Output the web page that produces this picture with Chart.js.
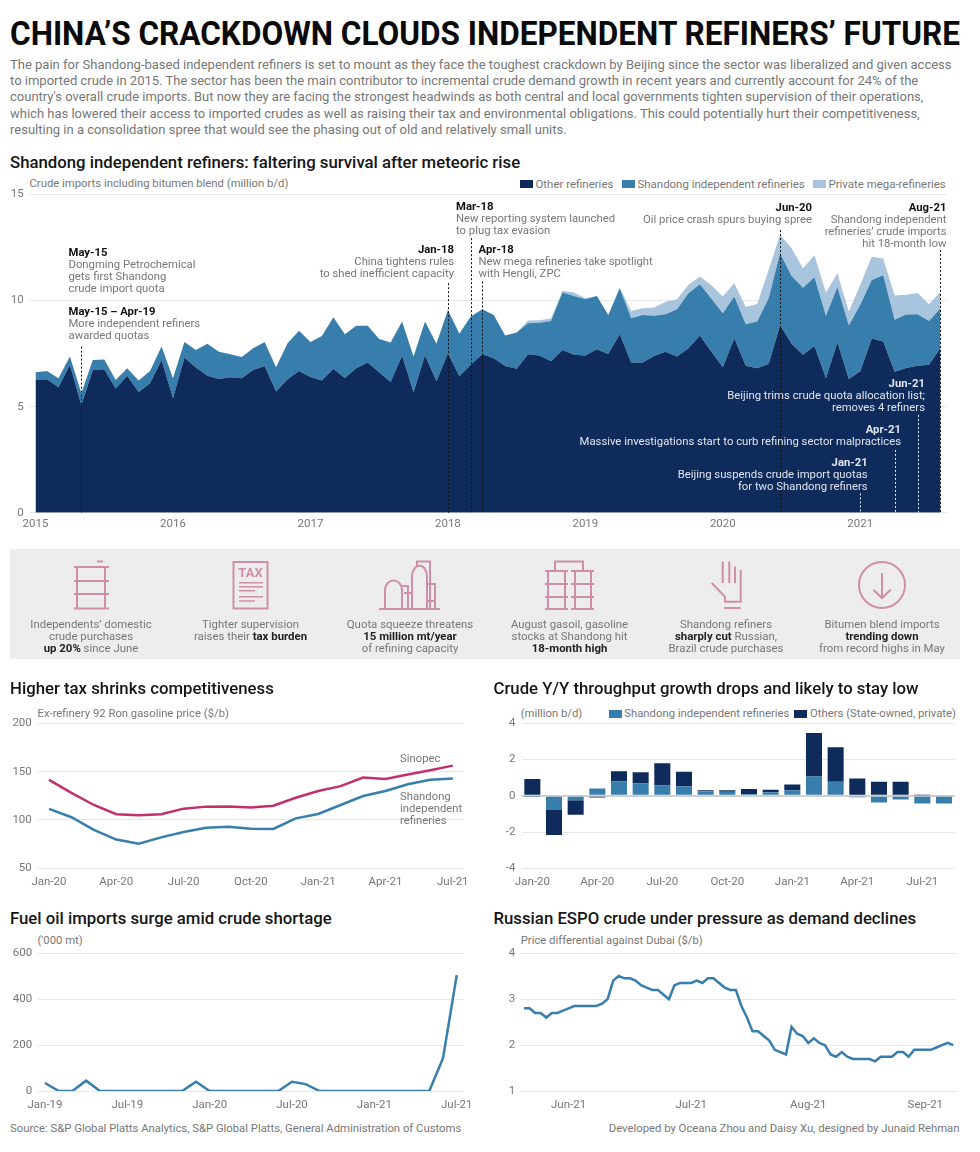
<!DOCTYPE html>
<html>
<head>
<meta charset="utf-8">
<script src="https://cdn.jsdelivr.net/npm/chart.js@4"></script>
<style>
html,body{margin:0;padding:0;background:#fff;}
body{position:relative;width:980px;height:1152px;overflow:hidden;font-family:Roboto,sans-serif;color:#777;}
canvas{position:absolute;}
h1{position:absolute;margin:0;left:10px;top:12px;font:bold 34px/42px Roboto,sans-serif;color:#0a0a0a;white-space:nowrap;transform-origin:0 0;}
h2{position:absolute;margin:0;font:500 16.75px/20px Roboto,sans-serif;color:#151515;white-space:nowrap;}
#intro{position:absolute;left:10px;top:56.5px;font:13px/16.45px Roboto,sans-serif;color:#777;white-space:nowrap;}
.sub{position:absolute;font:11.3px/14px Roboto,sans-serif;color:#777;white-space:nowrap;}
.sub.lg{font-size:11.45px;}
.box{position:absolute;height:8px;width:13px;}
.note{position:absolute;font:11.3px/12px Roboto,sans-serif;color:#777;white-space:nowrap;}
.note b{color:#111;font-weight:700;}
.note.w,.note.w b{color:#dfe5ee;}
#panel{position:absolute;left:10px;top:549px;width:950px;height:110px;background:#ededed;}
.cap{position:absolute;top:617.5px;width:170px;text-align:center;font:11.4px/12.2px Roboto,sans-serif;color:#777;}
.cap b{color:#222;font-weight:700;}
svg{position:absolute;left:0;top:0;}
</style>
</head>
<body>
<h1 id="title">CHINA’S CRACKDOWN CLOUDS INDEPENDENT REFINERS’ FUTURE</h1>
<div id="intro">The pain for Shandong-based independent refiners is set to mount as they face the toughest crackdown by Beijing since the sector was liberalized and given access<br>to imported crude in 2015. The sector has been the main contributor to incremental crude demand growth in recent years and currently account for 24% of the<br>country's overall crude imports. But now they are facing the strongest headwinds as both central and local governments tighten supervision of their operations,<br>which has lowered their access to imported crudes as well as raising their tax and environmental obligations. This could potentially hurt their competitiveness,<br>resulting in a consolidation spree that would see the phasing out of old and relatively small units.</div>

<h2 style="left:10px;top:152px">Shandong independent refiners: faltering survival after meteoric rise</h2>
<div class="sub" style="left:29.5px;top:176.5px">Crude imports including bitumen blend (million b/d)</div>
<div class="box" style="left:519.5px;top:180px;background:#0f2b5b"></div><div class="sub lg" style="left:535.5px;top:176.5px">Other refineries</div>
<div class="box" style="left:621.5px;top:180px;background:#377eac"></div><div class="sub lg" style="left:637.5px;top:176.5px">Shandong independent refineries</div>
<div class="box" style="left:812.5px;top:180px;background:#a9c5de"></div><div class="sub lg" style="left:828.5px;top:176.5px">Private mega-refineries</div>
<canvas id="importsChart" width="960" height="355" style="left:0;top:180px"></canvas>

<div id="panel"></div>
<svg width="980" height="680" fill="none" stroke="#d08fa9" stroke-width="2">
  <!-- barrel -->
  <path d="M97 561.5H103M74 567H109M74 581H109M74 594H109M74 608.5H109M77 567V608M105 567V608"/>
  <!-- tax form -->
  <rect x="233.5" y="562" width="34" height="46.500"/>
  <path d="M239 582.700H263M239 586.700H263M239 590.700H255M239 596.700H263M239 601H255" stroke-width="1.600"/>
  <text x="250.500" y="577" text-anchor="middle" fill="#d08fa9" stroke="none" style="font:bold 13px Roboto,sans-serif">TAX</text>
  <!-- refinery -->
  <path d="M379 609H440M385 609V591C385 577 402 577 402 591V609M402 586H408V609M404 593H412M412 609V577C412 562 427 562 427 577V609M417 566V561.500H430V584M427 584H435V609M430 584V609M427 601H435"/>
  <!-- two barrels -->
  <path d="M555 571V561.500H583V571M545 571H568M571 571H594M545 584H568M571 584H594M545 597H568M571 597H594M545 609H568M571 609H594M548 571V609M565 571V609M575 571V609M591 571V609"/>
  <!-- hand -->
  <path d="M722.700 561.500V583M729.300 561.500V583M735 566.500V583M740.700 570V601.700H725V596.700L711.700 583M724 608H740.700"/>
  <!-- down arrow -->
  <circle cx="882" cy="585" r="23"/>
  <path d="M882 573V598M873.300 589.700L882 598L890.700 589.700"/>
</svg>
<div class="cap" style="left:6px">Independents’ domestic<br>crude purchases<br><b>up 20%</b> since June</div>
<div class="cap" style="left:165.500px">Tighter supervision<br>raises their <b>tax burden</b></div>
<div class="cap" style="left:325px">Quota squeeze threatens<br><b>15 million mt/year</b><br>of refining capacity</div>
<div class="cap" style="left:484.500px">August gasoil, gasoline<br>stocks at Shandong hit<br><b>18-month high</b></div>
<div class="cap" style="left:641px">Shandong refiners<br><b>sharply cut</b> Russian,<br>Brazil crude purchases</div>
<div class="cap" style="left:797px">Bitumen blend imports<br><b>trending down</b><br>from record highs in May</div>

<h2 style="left:10px;top:678px">Higher tax shrinks competitiveness</h2>
<div class="sub" style="left:37.500px;top:707px">Ex-refinery 92 Ron gasoline price ($/b)</div>
<canvas id="gasolineChart" width="480" height="180" style="left:0;top:708px"></canvas>
<div class="sub" style="left:400px;top:752px">Sinopec</div>
<div class="sub" style="left:400px;top:791px;line-height:12px">Shandong<br>independent<br>refineries</div>

<h2 style="left:493.500px;top:678px">Crude Y/Y throughput growth drops and likely to stay low</h2>
<div class="sub" style="left:520.700px;top:707px">(million b/d)</div>
<div class="box" style="left:608.500px;top:710px;background:#377eac"></div><div class="sub" style="left:624.300px;top:707px">Shandong independent refineries</div>
<div class="box" style="left:794px;top:710px;background:#0f2b5b"></div><div class="sub" style="left:810px;top:707px">Others (State-owned, private)</div>
<canvas id="throughputChart" width="480" height="180" style="left:490px;top:708px"></canvas>

<h2 style="left:10px;top:908px">Fuel oil imports surge amid crude shortage</h2>
<div class="sub" style="left:37.500px;top:934px">('000 mt)</div>
<canvas id="fuelChart" width="480" height="172" style="left:0;top:938px"></canvas>

<h2 style="left:493.500px;top:908px">Russian ESPO crude under pressure as demand declines</h2>
<div class="sub" style="left:520.700px;top:934px">Price differential against Dubai ($/b)</div>
<canvas id="espoChart" width="480" height="172" style="left:490px;top:938px"></canvas>

<div class="sub" style="left:10px;top:1122px">Source: S&amp;P Global Platts Analytics, S&amp;P Global Platts, General Administration of Customs</div>
<div class="sub" style="right:20.500px;top:1122px">Developed by Oceana Zhou and Daisy Xu, designed by Junaid Rehman</div>

<div id="notes"></div>

<script>
const NAVY = '#0f2b5b', BLUE = '#377eac', LIGHT = '#a9c5de', PINK = '#c2306f';

// main chart, monthly Jan-15 to Aug-21
const otherRefineries = [6.26,6.29,5.91,6.97,5.08,6.73,6.76,5.85,6.45,5.69,6.10,7.20,
  5.39,7.31,6.84,6.46,6.30,6.38,6.34,6.73,6.92,5.71,6.29,6.68,
  6.40,6.23,6.79,6.35,6.81,7.08,6.62,6.16,7.41,5.68,7.42,6.20,
  7.52,6.43,6.97,7.48,7.28,6.92,6.79,7.47,7.41,7.14,7.67,7.44,
  7.41,7.70,7.48,8.41,7.08,7.08,7.39,7.59,7.36,7.75,8.35,7.59,
  6.86,8.22,6.93,6.81,7.01,8.85,7.96,7.45,7.86,6.34,8.03,6.30,
  6.67,8.21,8.07,6.65,6.82,6.93,6.97,7.78];
const shandongRefineries = [.36,.39,.43,.39,.55,.47,.46,.41,.36,.54,.58,.63,
  .95,.74,.83,1.50,1.29,1.09,1.00,1.02,1.13,1.15,1.70,1.90,
  1.65,2.10,2.42,2.06,2.00,1.73,1.57,1.86,1.60,1.68,1.59,1.76,
  2.04,2.01,2.28,2.11,2.04,1.43,1.70,1.46,1.55,1.90,2.71,2.78,
  2.65,2.52,1.84,2.17,2.09,2.24,1.89,1.77,2.23,2.60,2.42,2.49,
  2.54,1.97,1.95,2.20,3.10,3.38,3.20,3.15,3.24,2.95,2.60,2.52,
  3.13,2.76,3.12,2.44,2.52,2.43,2.07,1.86];
const megaRefineries = [0,0,0,0,0,0,0,0,0,0,0,0,
  0,0,0,0,0,0,0,0,0,0,0,0,
  0,0,0,0,0,0,0,0,0,0,0,0,
  0,0,0,0,0,0,0,.13,.11,.11,.08,.16,
  .05,0,0,.03,.34,.32,.39,.59,.47,.39,.36,.64,
  .79,.63,.82,.83,1.34,.87,1.31,.92,1.04,1.09,.66,.66,
  .94,1.09,.79,1.15,.93,1.00,.79,.78];

// gasoline, Jan-20 to Jul-21
const sinopecPrice = [141.4,128,115.5,106,105,106,111.7,113.8,114,112.8,114.8,123,130,135,143.8,142.4,147,151.4,156.2];
const shandongPrice = [111.4,102.8,89.7,79.7,75.5,82,87.6,92,93,91,90.7,101.7,106.2,115.5,124.8,130,137,141.7,143];

// throughput growth, Jan-20 to Aug-21
const shandongGrowth = [-.03,-.78,-.25,.4,.8,.68,.57,.53,.25,.22,.1,.2,.3,1.07,.78,-.08,-.37,-.2,-.42,-.42];
const othersGrowth = [.93,-1.38,-.8,-.1,.55,.62,1.23,.8,.05,.08,.28,.13,.33,2.4,1.9,.95,.78,.78,.03,0];

// fuel oil imports, Jan-19 to Jul-21
const fuelOilImports = [35,0,0,45,0,0,0,0,0,0,0,40,0,0,0,0,0,0,40,30,0,0,0,0,0,0,0,0,0,143,505];

// ESPO differential, daily
const espoDiff = [2.8,2.8,2.7,2.7,2.6,2.7,2.7,2.75,2.8,2.85,2.85,2.85,2.85,2.85,2.9,3.0,3.4,3.5,3.45,3.45,
  3.4,3.3,3.25,3.2,3.2,3.1,3.0,3.3,3.35,3.35,3.35,3.4,3.35,3.45,3.45,3.35,3.25,3.2,3.2,2.85,
  2.6,2.3,2.3,2.2,2.1,1.9,1.85,1.8,2.4,2.25,2.2,2.05,2.15,2.05,2.0,1.8,1.75,1.85,1.75,1.7,
  1.7,1.7,1.7,1.65,1.75,1.75,1.75,1.85,1.85,1.75,1.9,1.9,1.9,1.9,1.95,2.0,2.05,2.0];
const espoTicks = {8:'Jun-21',30:'Jul-21',51:'Aug-21',72:'Sep-21'};

// event markers on main chart: month index, value where the dotted line starts
const eventLines = [
  {i:4,top:7.83,color:'#111'},{i:36,top:10.82,color:'#111'},{i:38,top:12.94,color:'#111'},
  {i:39,top:10.9,color:'#111'},{i:65,top:13.33,color:'#111'},{i:79,top:12.39,color:'#111'},
  {i:72,top:.91,color:'#e8edf4'},{i:75,top:2.96,color:'#e8edf4'},{i:77,top:4.61,color:'#e8edf4'}
];

const notes = [
  {x:68.5,y:246.5,head:'May-15',lines:['Dongming Petrochemical','gets first Shandong','crude import quota']},
  {x:68.5,y:306,head:'May-15 – Apr-19',lines:['More independent refiners','awarded quotas']},
  {r:454,y:244,head:'Jan-18',lines:['China tightens rules','to shed inefficient capacity']},
  {x:456,y:201,head:'Mar-18',lines:['New reporting system launched','to plug tax evasion']},
  {x:478.5,y:244,head:'Apr-18',lines:['New mega refineries take spotlight','with Hengli, ZPC']},
  {r:812,y:201.500,head:'Jun-20',lines:['Oil price crash spurs buying spree']},
  {r:946.5,y:201.500,head:'Aug-21',lines:['Shandong independent','refineries’ crude imports','hit 18-month low']},
  {r:925,y:378,white:1,head:'Jun-21',lines:['Beijing trims crude quota allocation list;','removes 4 refiners']},
  {r:901,y:424,white:1,head:'Apr-21',lines:['Massive investigations start to curb refining sector malpractices']},
  {r:867.700,y:456.500,white:1,head:'Jan-21',lines:['Beijing suspends crude import quotas','for two Shandong refiners']}
];

const MON = ['Jan','Feb','Mar','Apr','May','Jun','Jul','Aug','Sep','Oct','Nov','Dec'];
function months(startYear, startMonth, n) {
  const out = [];
  for (let i = 0; i < n; i++) {
    const m = startMonth + i;
    out.push(MON[m % 12] + '-' + String(startYear + Math.floor(m / 12)).slice(2));
  }
  return out;
}

const tickFont = {family:'Roboto', size:11.5};
function scales(o) {
  return {
    x: {
      type:'category', offset:true, stacked:!!o.stacked,
      grid:{display:false, drawTicks:false}, border:{display:false},
      ticks:{autoSkip:false, maxRotation:0, minRotation:0, padding:o.xPad || 7, color:'#777', font:tickFont, callback:o.xTick},
      afterFit(a){ a.height = o.xH; }
    },
    y: {
      min:o.min, max:o.max, stacked:!!o.stacked,
      grid:{color:c => (c.tick.value === 0 && o.stacked === 'bar') ? '#cfcfcf' : '#e7e7e7', lineWidth:c => (c.tick.value === 0 && o.stacked === 'bar') ? 2 : 1, drawTicks:false},
      border:{display:false},
      ticks:{stepSize:o.step, padding:o.yPad || 6, color:'#777', font:tickFont},
      afterFit(a){ a.width = o.yW; }
    }
  };
}
function baseOptions(o) {
  return {
    responsive:false, animation:false, devicePixelRatio:1,
    layout:{padding:{top:o.top, right:o.right, left:0, bottom:0}},
    plugins:{legend:{display:false}, tooltip:{enabled:false}},
    elements:{point:{radius:0}, line:{tension:0}},
    scales:scales(o)
  };
}
const lineSet = (label, data, color) => ({label, data, borderColor:color, borderWidth:2.5, fill:false});

const dottedLines = {
  id:'dottedLines',
  afterDatasetsDraw(chart) {
    const {ctx, scales:{x, y}} = chart;
    ctx.save();
    ctx.lineWidth = 1;
    ctx.setLineDash([2, 2]);
    eventLines.forEach(e => {
      const px = Math.round(x.getPixelForValue(e.i)) + .5;
      ctx.strokeStyle = e.color;
      ctx.beginPath();
      ctx.moveTo(px, y.getPixelForValue(e.top));
      ctx.lineTo(px, y.getPixelForValue(0));
      ctx.stroke();
    });
    ctx.restore();
  }
};

const importLabels = months(2015, 0, otherRefineries.length);
new Chart(document.getElementById('importsChart'), {
  type:'line',
  data:{labels:importLabels, datasets:[
    {label:'Other refineries', data:otherRefineries, backgroundColor:NAVY, borderWidth:0, fill:'origin'},
    {label:'Shandong independent refineries', data:shandongRefineries, backgroundColor:BLUE, borderWidth:0, fill:'-1'},
    {label:'Private mega-refineries', data:megaRefineries, backgroundColor:LIGHT, borderWidth:0, fill:'-1'}
  ]},
  options:baseOptions({top:14.5, right:13.8, xH:22.3, yW:29.8, min:0, max:15, step:5, stacked:true, xPad:5,
    xTick(v, i){ return i % 12 === 0 ? '20' + importLabels[i].slice(4) : ''; }}),
  plugins:[dottedLines]
});

const gasLabels = months(2020, 0, sinopecPrice.length);
new Chart(document.getElementById('gasolineChart'), {
  type:'line',
  data:{labels:gasLabels, datasets:[
    lineSet('Sinopec', sinopecPrice, PINK),
    lineSet('Shandong independent refineries', shandongPrice, BLUE)
  ]},
  options:baseOptions({top:15.3, right:16, xH:19.7, yW:37.8, min:50, max:200, step:50,
    xTick(v, i){ return i % 3 === 0 ? gasLabels[i] : ''; }})
});

const growthLabels = months(2020, 0, shandongGrowth.length);
new Chart(document.getElementById('throughputChart'), {
  type:'bar',
  data:{labels:growthLabels, datasets:[
    {label:'Shandong independent refineries', data:shandongGrowth, backgroundColor:BLUE, barPercentage:.74, categoryPercentage:1},
    {label:'Others (State-owned, private)', data:othersGrowth, backgroundColor:NAVY, barPercentage:.74, categoryPercentage:1}
  ]},
  options:baseOptions({top:15.3, right:15.2, xH:19.7, yW:31.5, min:-4, max:4, step:2, stacked:'bar',
    xTick(v, i){ return i % 3 === 0 ? growthLabels[i] : ''; }})
});

const fuelLabels = months(2019, 0, fuelOilImports.length);
new Chart(document.getElementById('fuelChart'), {
  type:'line',
  data:{labels:fuelLabels, datasets:[lineSet('Fuel oil imports', fuelOilImports, BLUE)]},
  options:baseOptions({top:15.3, right:16.4, xH:19, yW:38.1, min:0, max:600, step:200,
    xTick(v, i){ return i % 6 === 0 ? fuelLabels[i] : ''; }})
});

new Chart(document.getElementById('espoChart'), {
  type:'line',
  data:{labels:espoDiff.map((v, i) => espoTicks[i] || ''), datasets:[lineSet('ESPO differential', espoDiff, BLUE)]},
  options:baseOptions({top:15, right:14, xH:18.7, yW:31.2, min:1, max:4, step:1,
    xTick(v, i){ return espoTicks[i] || ''; }})
});

// annotation text
const holder = document.getElementById('notes');
notes.forEach(n => {
  const d = document.createElement('div');
  d.className = 'note' + (n.white ? ' w' : '');
  d.style.top = n.y + 'px';
  if (n.r !== undefined) { d.style.right = (980 - n.r) + 'px'; d.style.textAlign = 'right'; }
  else d.style.left = n.x + 'px';
  d.innerHTML = '<b>' + n.head + '</b><br>' + n.lines.join('<br>');
  holder.appendChild(d);
});

// squeeze the headline to the full width
const title = document.getElementById('title');
title.style.transform = 'scaleX(' + (950 / title.getBoundingClientRect().width) + ')';
</script>
</body>
</html>
